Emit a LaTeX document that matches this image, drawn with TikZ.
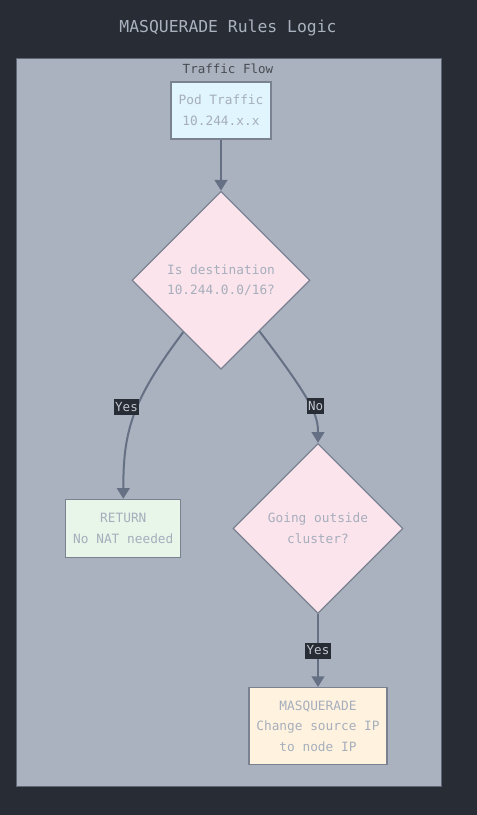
\documentclass[tikz,border=0pt]{standalone}
\usepackage{fontspec}
\setmonofont{DejaVu Sans Mono}
\usetikzlibrary{arrows.meta, positioning, shapes.geometric}
\definecolor{bgdark}{HTML}{282C34}
\definecolor{clusterfill}{HTML}{AAB2BF}
\definecolor{clusterline}{HTML}{5F6674}
\definecolor{nodeline}{HTML}{7A8291}
\definecolor{nodetext}{HTML}{A6AEBC}
\definecolor{edgecol}{HTML}{667085}
\definecolor{podfill}{HTML}{E1F5FE}
\definecolor{decfill}{HTML}{FCE4EC}
\definecolor{retfill}{HTML}{E8F5E9}
\definecolor{masqfill}{HTML}{FFF3E0}
\tikzset{
    %Define standard arrow tip
    >={Triangle[length=8pt,width=9.5pt]},
    %Define style for boxes
    box/.style={
           rectangle,
           draw=nodeline, line width=0.9pt,
           text=nodetext,
           font=\ttfamily\fontsize{9.6}{15.5}\selectfont,
           align=center,
           inner sep=0pt},
    % Define style for decisions
    decision/.style={
           diamond,
           draw=nodeline, line width=0.9pt,
           fill=decfill,
           text=nodetext,
           font=\ttfamily\fontsize{9.6}{15.5}\selectfont,
           align=center,
           inner sep=0pt},
    % Define arrow style
    pil/.style={
           ->,
           draw=edgecol,
           line width=1.5pt},
    % Define edge label style
    etikett/.style={
           fill=bgdark,
           text=nodetext!70!white,
           font=\ttfamily\fontsize{9.4}{10}\selectfont,
           inner xsep=1pt, inner ysep=2.5pt}
}

\begin{document}
\begin{tikzpicture}[x=0.75pt, y=-0.75pt]
	%
	% fond
	%
	\useasboundingbox (0,0) rectangle (476,815);
	\fill[bgdark] (-5,-5) rectangle (481,820);
	\node[text=clusterfill, font=\ttfamily\fontsize{12.3}{14}\selectfont] (titel) at (228,28) {MASQUERADE Rules Logic};
	\draw[fill=clusterfill, draw=clusterline, line width=0.75pt] (16,58) rectangle (441,786);
	\node[text=bgdark!85!white, font=\ttfamily\fontsize{9.4}{11}\selectfont] (flow) at (228,69) {Traffic Flow};
	%
	% noeuds
	%
	\node[box, fill=podfill, minimum width=75pt, minimum height=42.75pt] (pod) at (221,110.5) {Pod Traffic\\10.244.x.x};
	\node[decision, minimum width=133.5pt, minimum height=133.5pt, below=38.25pt of pod] (dest) {Is destination\\10.244.0.0/16?};
	\node[decision, minimum width=127.5pt, minimum height=127.5pt, below=54.75pt of dest, xshift=72.75pt] (outside) {Going outside\\cluster?};
	\node[box, fill=retfill, minimum width=86.25pt, minimum height=43.5pt, left=38.25pt of outside] (ret) {RETURN\\No NAT needed};
	\node[box, fill=masqfill, minimum width=103.5pt, minimum height=57.75pt, below=54.75pt of outside] (masq) {MASQUERADE\\Change source IP\\to node IP};
	%
	% Liens
	%
	\draw[pil] (pod) -- (dest);
	\draw[pil] (dest.234) .. controls +(-52,69) and +(0,-67) .. node[etikett, pos=0.44, xshift=-8pt] {Yes} (ret.north);
	\draw[pil] (dest.-53) .. controls +(55,72) and +(0,-26) .. node[etikett, pos=0.52, xshift=4pt] {No} (outside.north);
	\draw[pil] (outside) -- node[etikett, pos=0.5] {Yes} (masq);
\end{tikzpicture}
\end{document}
